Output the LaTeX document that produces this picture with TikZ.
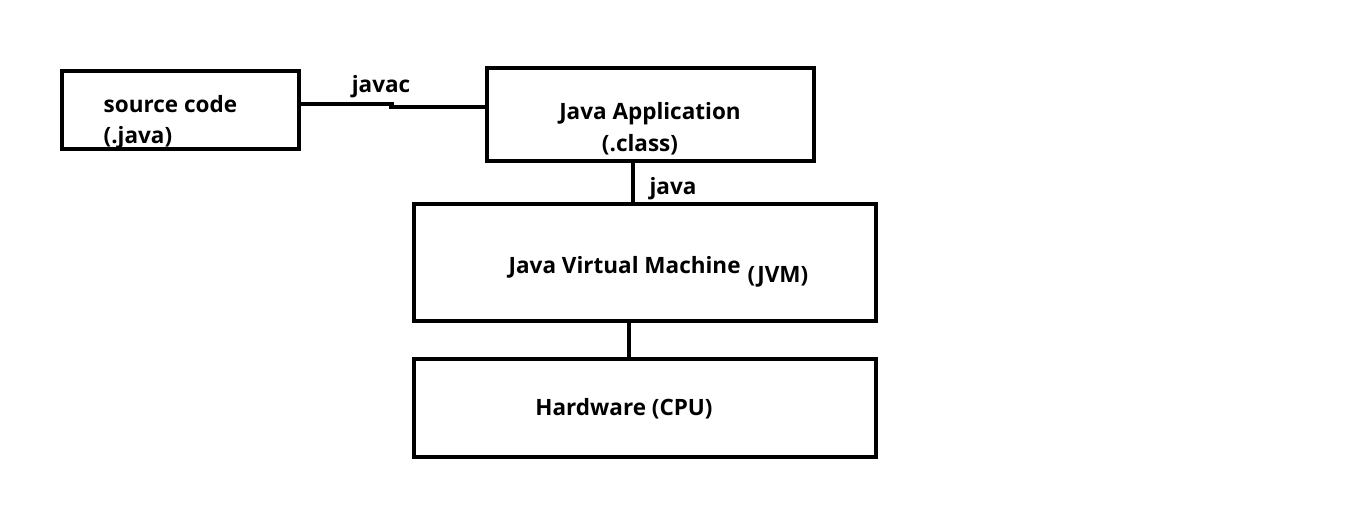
\documentclass[tikz,border=0pt]{standalone}
\usepackage{fontspec}
\setmainfont{Open Sans}
\usetikzlibrary{positioning, calc}

\begin{document}
\begin{tikzpicture}[
        every node/.style={font=\fontsize{6.4}{7.6}\selectfont\bfseries},
        block/.style={rectangle,draw,line width=1.4pt,inner sep=0pt},
        link/.style={line width=1.4pt},
        lbl/.style={inner sep=0pt}
      ]
      \useasboundingbox (0,0) rectangle (13.46,-5.29);

      % Boxes
      \node[block,minimum width=2.37cm,minimum height=0.78cm] (src) at (1.805,-1.10) {};
      \node[block,minimum width=3.27cm,minimum height=0.93cm] (app) at (6.505,-1.145) {};
      \node[block,minimum width=4.62cm,minimum height=1.17cm] (jvm) at (6.45,-2.625) {};
      \node[block,minimum width=4.62cm,minimum height=0.98cm] (hw) at (6.45,-4.08) {};

      % Box texts
      \node[lbl,anchor=west] (srcA) at (1.03,-1.04) {source code};
      \node[lbl,anchor=west] (srcB) at (1.03,-1.38) {(.java)};
      \node[lbl] (appA) at (6.50,-1.14) {Java Application};
      \node[lbl] (appB) at (6.40,-1.45) {(.class)};
      \node[lbl,anchor=west] (jvmA) at (5.08,-2.67) {Java Virtual Machine};
      \node[lbl,anchor=west] (jvmB) at (7.47,-2.77) {(JVM)};
      \node[lbl] (hwA) at (6.24,-4.09) {Hardware (CPU)};

      % Connectors
      \draw[link] ([yshift=0.06cm]src.east) -- ++(0.9,0) |- ([yshift=0.075cm]app.west);
      \draw[link] ([xshift=-0.175cm]app.south) -- ([xshift=-0.175cm]app.south |- jvm.north);
      \draw[link] ([xshift=-0.16cm]jvm.south) -- ([xshift=-0.16cm]jvm.south |- hw.north);

      % Connector labels
      \node[lbl] (javac) at (3.81,-0.87) {javac};
      \node[lbl] (java) at (6.73,-1.89) {java};
    \end{tikzpicture}
\end{document}
